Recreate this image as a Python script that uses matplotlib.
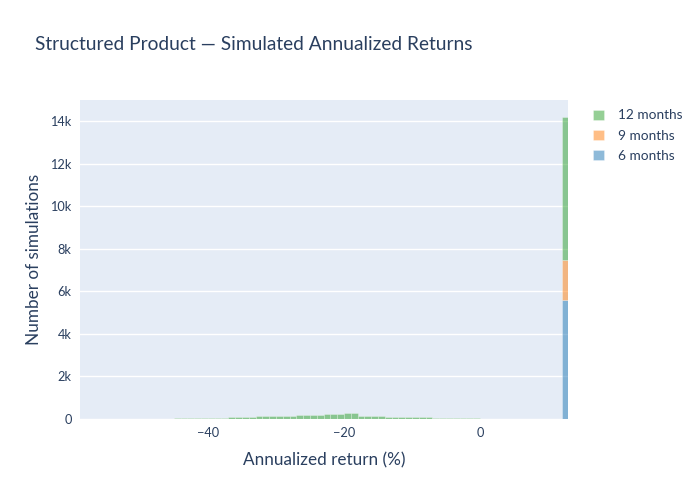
import matplotlib
matplotlib.use("Agg")
import matplotlib.pyplot as plt
import numpy as np
from matplotlib.ticker import FuncFormatter

# Data (bin width 1 %)
bin_left = list(range(-50, 1))
green_low = [20, 0, 10, 15, 20, 25, 30, 35, 40, 45, 50, 60, 70, 80, 85, 90,
             110, 120, 125, 135, 140, 145, 160, 170, 180, 190, 205, 215, 225,
             235, 270, 280, 160, 150, 150, 140, 100, 100, 100, 95, 90, 80, 75,
             55, 55, 50, 40, 30, 30, 25, 20]
top_bin = 12
count_6m_top = 5600
count_9m_top = 1860
count_12m_top = 6740
series_names = ["6 months", "9 months", "12 months"]
series_colors = ["#1f77b4", "#ff7f0e", "#2ca02c"]

TEXT = "#2a3f5f"
BG = "#E5ECF6"
plt.rcParams["font.family"] = ["Lato", "DejaVu Sans"]

fig = plt.figure(figsize=(7, 5), dpi=100)
ax = fig.add_axes([80 / 700, 1 - 419 / 500, 488 / 700, 319 / 500])
ax.set_facecolor(BG)

x_all = np.array(bin_left + [top_bin])
blue = np.array([0] * len(bin_left) + [count_6m_top])
orange = np.array([0] * len(bin_left) + [count_9m_top])
green = np.array(green_low + [count_12m_top])

bottom = np.zeros(len(x_all))
for name, color, vals in zip(series_names, series_colors, [blue, orange, green]):
    ax.bar(x_all, vals, width=1, bottom=bottom, align="edge", color=color,
           alpha=0.5, edgecolor="white", linewidth=0.4, label=name, zorder=2)
    bottom = bottom + vals

ax.set_xlim(-58.8, 12.94)
ax.set_ylim(0, 15000)
ax.set_yticks(np.arange(0, 15000, 2000))
ax.yaxis.set_major_formatter(FuncFormatter(lambda v, p: "0" if v == 0 else f"{int(v / 1000)}k"))
ax.set_xticks([-40, -20, 0])
ax.xaxis.set_major_formatter(FuncFormatter(lambda v, p: f"\u2212{int(-v)}" if v < 0 else f"{int(v)}"))
ax.yaxis.grid(True, color="white", linewidth=1, zorder=0)
ax.xaxis.grid(False)
ax.set_axisbelow(True)
for s in ax.spines.values():
    s.set_visible(False)
ax.tick_params(length=0, colors=TEXT, labelsize=9.2, pad=6)

ax.set_xlabel("Annualized return (%)", color=TEXT, fontsize=12.3, labelpad=9)
ax.set_ylabel("Number of simulations", color=TEXT, fontsize=12.3, labelpad=6)
fig.text(35 / 700, 1 - 44 / 500, "Structured Product \u2014 Simulated Annualized Returns",
         color=TEXT, fontsize=13.8, va="center", ha="left")

handles, labels = ax.get_legend_handles_labels()
leg = fig.legend(handles[::-1], labels[::-1], loc="upper left",
                 bbox_to_anchor=(588 / 700, 1 - 104 / 500), frameon=False,
                 fontsize=9.8, labelcolor=TEXT, handlelength=0.8, handleheight=0.8,
                 handletextpad=1.0, labelspacing=0.6, borderaxespad=0)

fig.savefig("out.png", dpi=100, facecolor="white")
